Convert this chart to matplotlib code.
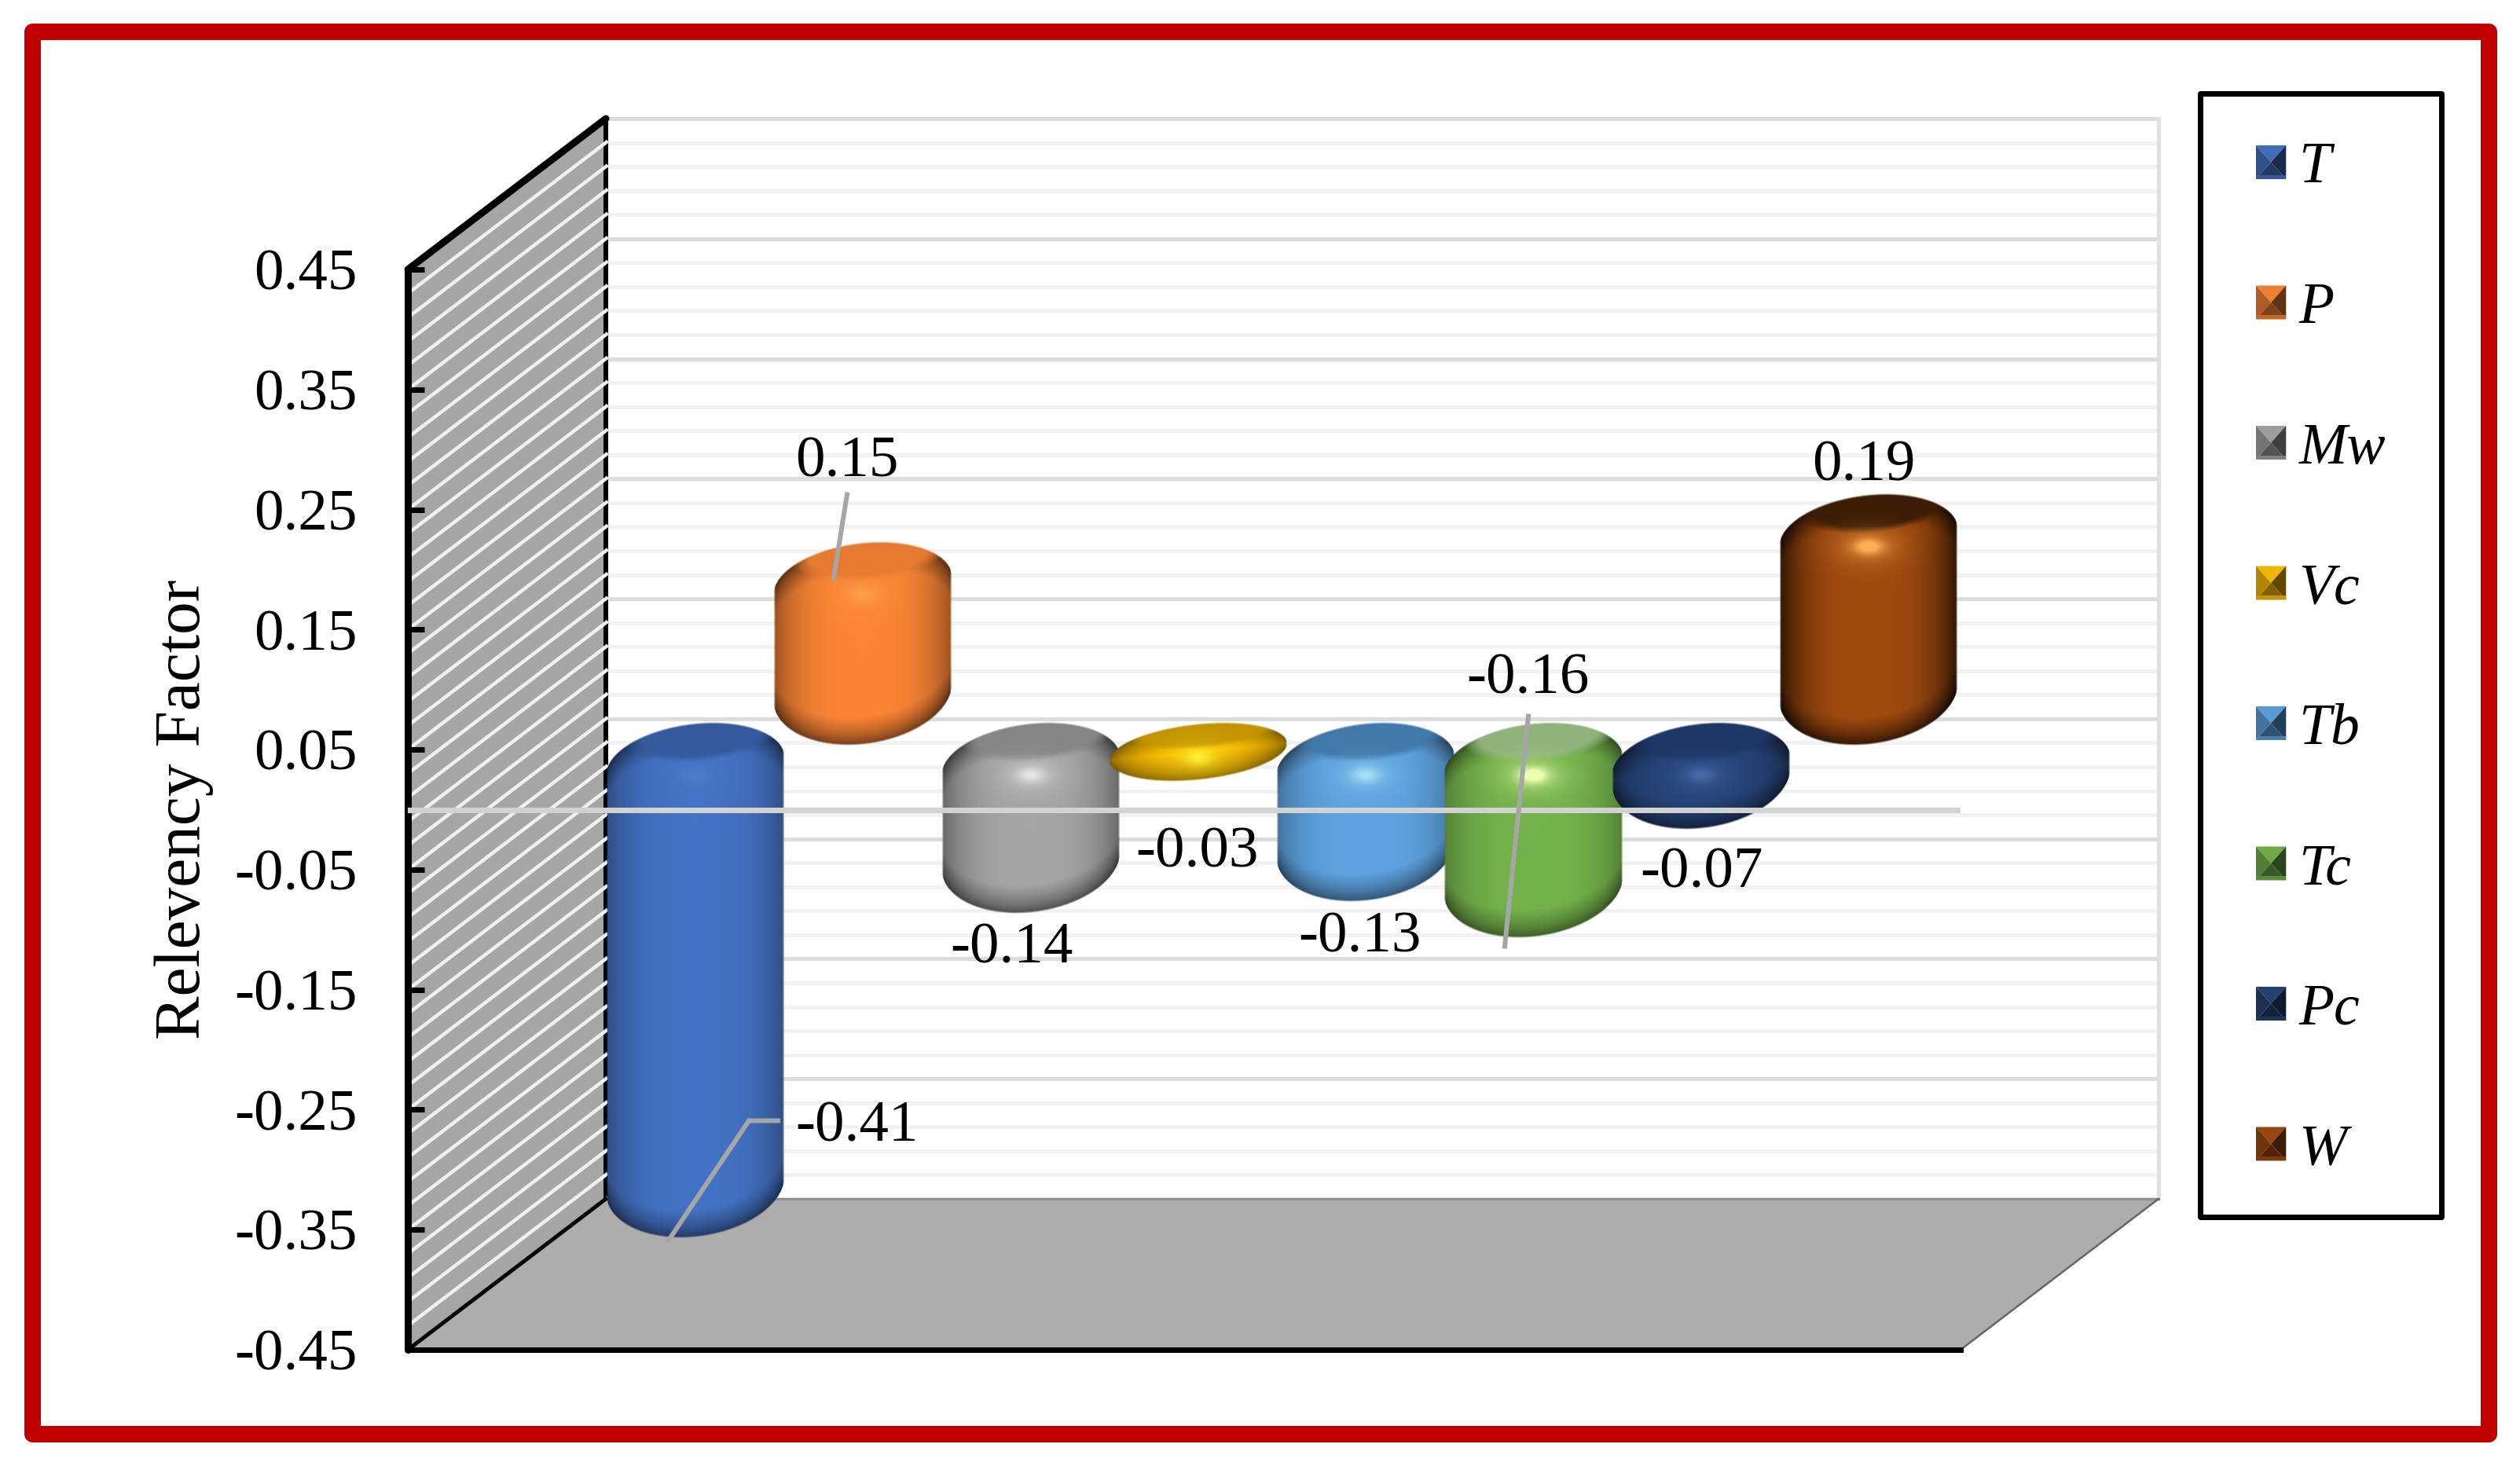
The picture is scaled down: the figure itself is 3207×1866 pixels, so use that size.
import numpy as np
import matplotlib
matplotlib.use("Agg")
import matplotlib.pyplot as plt
from matplotlib.patches import Polygon, Rectangle, Patch

plt.rcParams['font.family'] = ['Liberation Serif', 'DejaVu Serif']

# data
series = ['T', 'P', 'Mw', 'Vc', 'Tb', 'Tc', 'Pc', 'W']
values = [-0.41, 0.15, -0.14, -0.03, -0.13, -0.16, -0.07, 0.19]
colors = ['#4472c4', '#fb8535', '#a5a5a5', '#ffc000', '#5ea3e0', '#74b24b', '#264478', '#a04a0e']
yticks = [0.45, 0.35, 0.25, 0.15, 0.05, -0.05, -0.15, -0.25, -0.35, -0.45]
ytick_labels = ['0.45', '0.35', '0.25', '0.15', '0.05', '-0.05', '-0.15', '-0.25', '-0.35', '-0.45']

# shading per bar
cap_color = ['#345a9c', '#e67a30', '#868686', '#c49400', '#4179ab', '#8fb27a', '#1d3766', '#3c1c04']
spot = [0.06, 0.15, 0.50, 0.55, 0.45, 0.90, 0.28, 0.85]
side_dark = [0.68, 0.62, 0.62, 0.80, 0.70, 0.72, 0.68, 0.28]
draw_order = [7, 1, 0, 2, 3, 4, 5, 6]

# label offsets from bar end, pixels
label_dx = [205, -20, -24, -1, -8, -7, 1, -6]
label_dy = [126, 117, -59, -105, -61, 314, -70, 50]

W, H = 3207, 1866
AX_L, AX_R, AX_T, AX_B = 519, 2495, 343, 1718
PX_CAT = 213.3                      # pixels between bars
PX_VAL = (AX_B - AX_T) / 0.9        # pixels per 1.0 of value
X0 = 759                            # pixel of first bar on the front plane
DEPTH_X = 252 / PX_CAT
DEPTH_Y = 192 / PX_VAL
BAR_PX = 228
BAR_HALF = BAR_PX / 2 / PX_CAT
BAR_PAD = 15 / PX_VAL
GREY_LINE = '#a6a6a6'


def px(x, y):
    return (x - X0) / PX_CAT, (1031 - y) / PX_VAL


def lw(p):
    return p * 0.72


def bar_image(H_px, W_px, col, cap, spot_k, dark):
    rgb = np.array(matplotlib.colors.to_rgb(col))
    cap_rgb = np.array(matplotlib.colors.to_rgb(cap))
    u = np.linspace(-1, 1, W_px)[None, :]
    y = np.arange(H_px)[:, None] + 0.5
    s = 11.0
    limit = np.sqrt(max((H_px / 2) ** 2 - s ** 2, 1))
    c = min(54.0, limit)        # top curve
    cb = min(66.0, limit)       # bottom curve is a bit deeper
    sq = np.sqrt(np.clip(1 - u ** 2, 0, 1))
    upper = np.sqrt(c ** 2 + s ** 2) - c * sq - s * u
    lower = H_px - np.sqrt(cb ** 2 + s ** 2) + cb * sq - s * u
    alpha = np.clip((y - upper) / 2.5, 0, 1) * np.clip((lower - y) / 2.5, 0, 1)
    alpha = alpha * np.clip((1 - np.abs(u)) * W_px / 2 / 2.5, 0, 1)

    shade = dark + (1 - dark) * (1 - np.abs(u) ** 3.2)
    d = np.clip(np.minimum(y - upper, lower - y), 0, None)
    shade = shade * (dark * 0.6 + (1 - dark * 0.6) * np.clip(d / 36, 0, 1) ** 0.6)
    img = rgb[None, None, :] * shade[:, :, None]

    # darker cap on the top face
    q = ((u - 0.08) / 0.8) ** 2 + ((y + s * u - 0.3 * c) / (0.58 * c)) ** 2
    m = np.clip((1.2 - q) / 0.5, 0, 1)[:, :, None]
    img = img * (1 - m) + cap_rgb[None, None, :] * m

    # specular spot
    hy = 1.25 * c
    g1 = np.exp(-(u / 0.16) ** 2 - ((y - hy) / 10) ** 2)
    g2 = np.exp(-(u / 0.38) ** 2 - ((y - hy) / 24) ** 2)
    k = np.clip(spot_k * g1 + 0.45 * spot_k * g2, 0, 1)[:, :, None]
    img = img * (1 - k) + np.minimum(rgb[None, None, :] * 1.5 + 0.25, 1) * k

    return np.dstack([np.clip(img, 0, 1), alpha])


class BevelHandler:
    def legend_artist(self, legend, handle, fontsize, handlebox):
        x0, y0 = handlebox.xdescent, handlebox.ydescent
        w, h = handlebox.width, handlebox.height
        c = np.array(matplotlib.colors.to_rgb(handle.get_facecolor()))
        mx, my = -x0 + w / 2, -y0 + h / 2
        l, r, b, t = -x0, -x0 + w, -y0, -y0 + h
        faces = [([(l, t), (r, t), (mx, my)], c * 0.95),
                 ([(l, t), (l, b), (mx, my)], c * 0.70),
                 ([(r, t), (r, b), (mx, my)], c * 0.38),
                 ([(l, b), (r, b), (mx, my)], c * 0.50)]
        for pts, col in faces:
            handlebox.add_artist(Polygon(pts, closed=True, facecolor=col, edgecolor='none',
                                         transform=handlebox.get_transform()))
        handlebox.add_artist(Rectangle((l, b), w, h * 0.12, facecolor=c * 0.78, edgecolor='none',
                                       transform=handlebox.get_transform()))
        return handle


fig = plt.figure(figsize=(W / 100, H / 100), dpi=100, facecolor='white')
ax = fig.add_axes([AX_L / W, 1 - AX_B / H, (AX_R - AX_L) / W, (AX_B - AX_T) / H])
ax.set_facecolor('none')

xlim = ((AX_L - X0) / PX_CAT, (AX_R - X0) / PX_CAT)
ylim = (-0.45, 0.45)
xl, xr = xlim
yb, yt = ylim

# walls and floor
ax.add_patch(Polygon([(xl, yb), (xl, yt), (xl + DEPTH_X, yt + DEPTH_Y), (xl + DEPTH_X, yb + DEPTH_Y)],
                     facecolor='#a6a6a6', edgecolor='none', zorder=1, clip_on=False))
ax.plot([xl + DEPTH_X] * 2, [yb + DEPTH_Y, yt + DEPTH_Y], color='black', lw=lw(6), zorder=1.2, clip_on=False)

grid_levels = np.arange(0, 46) * -0.02 + 0.45
for n, v in enumerate(grid_levels):
    major = n % 5 == 0
    ax.plot([xl, xl + DEPTH_X * 1.01], [v, v + DEPTH_Y * 1.01], color='#f0f0f0', lw=lw(4.5),
            zorder=1.5, clip_on=False, solid_capstyle='butt')
    ax.plot([xl + DEPTH_X * 1.01, xr + DEPTH_X], [v + DEPTH_Y] * 2, color='#dcdcdc' if major else '#f2f2f2',
            lw=lw(5), zorder=1.5, clip_on=False, solid_capstyle='butt')
ax.plot([xr + DEPTH_X] * 2, [yb + DEPTH_Y, yt + DEPTH_Y], color='#e0e0e0', lw=lw(5), zorder=1.5, clip_on=False)

ax.add_patch(Polygon([(xl, yb), (xr, yb), (xr + DEPTH_X, yb + DEPTH_Y), (xl + DEPTH_X, yb + DEPTH_Y)],
                     facecolor='#adadad', edgecolor='none', zorder=2, clip_on=False))
ax.plot([xl + DEPTH_X, xr + DEPTH_X], [yb + DEPTH_Y] * 2, color='#909090', lw=lw(3), zorder=2.1, clip_on=False)
ax.plot([xr, xr + DEPTH_X], [yb, yb + DEPTH_Y], color='#666666', lw=lw(2.5), zorder=2.1, clip_on=False)
ax.plot([xl, xl + DEPTH_X], [yb, yb + DEPTH_Y], color='black', lw=lw(5), zorder=2.2, clip_on=False)
ax.plot([xl, xl + DEPTH_X], [yt, yt + DEPTH_Y], color='black', lw=lw(9), zorder=2.6, clip_on=False,
        solid_capstyle='round')

# bars
for z, i in enumerate(draw_order):
    v = values[i]
    cx = i + 0.5 * DEPTH_X
    top = max(v, 0) + 0.5 * DEPTH_Y + BAR_PAD
    bot = min(v, 0) + 0.5 * DEPTH_Y - BAR_PAD
    rows = int(round((top - bot) * PX_VAL))
    im = bar_image(rows, BAR_PX, colors[i], cap_color[i], spot[i], side_dark[i])
    ax.imshow(im, extent=(cx - BAR_HALF, cx + BAR_HALF, bot, top), aspect='auto',
              interpolation='bilinear', zorder=3 + z * 0.1, clip_on=False)

ax.set_xlim(xlim)
ax.set_ylim(ylim)

# zero line on the front plane
ax.axhline(0, color='#d2d2d2', lw=lw(7), zorder=10)

# leader lines
leaders = [[(1078, 630), (1061, 736)],
           [(990, 1427), (953, 1427), (851, 1579)],
           [(1945, 912), (1915, 1205)]]
for path in leaders:
    pts = np.array([px(*p) for p in path])
    ax.plot(pts[:, 0], pts[:, 1], color=GREY_LINE, lw=lw(6), zorder=11, clip_on=False,
            solid_joinstyle='miter')

# value labels
for i, v in enumerate(values):
    ax.annotate(f'{v:.2f}', xy=(i + 0.5 * DEPTH_X, v + 0.5 * DEPTH_Y),
                xytext=(label_dx[i], label_dy[i]), textcoords='offset pixels',
                ha='center', va='center', fontsize=54, color='black', zorder=12)

# axes
for side in ('top', 'right'):
    ax.spines[side].set_visible(False)
ax.spines['left'].set_linewidth(lw(9))
ax.spines['bottom'].set_linewidth(lw(7))
ax.spines['bottom'].set_zorder(2.5)
ax.spines['left'].set_capstyle('round')
ax.set_axisbelow(False)
ax.set_xticks([])
ax.set_yticks(yticks)
ax.set_yticklabels(ytick_labels)
ax.tick_params(axis='y', direction='in', length=21 * 0.72, width=lw(7), labelsize=54, pad=64 * 0.72)
ax.set_ylabel('Relevency Factor', fontsize=60)
ax.yaxis.set_label_coords((272 - AX_L) / (AX_R - AX_L), 0.5)

# legend box drawn on its own so the rows can sit as in the original
fig.add_artist(Rectangle((2799.5 / W, 1 - 1549 / H), (3106.5 - 2799.5) / W, (1549 - 118.5) / H,
                         transform=fig.transFigure, facecolor='white', edgecolor='black', lw=lw(7),
                         joinstyle='round'))
handles = [Patch(facecolor=c, label=s) for c, s in zip(colors, series)]
leg = fig.legend(handles=handles, loc='upper left',
                 bbox_to_anchor=(2871 / W, 1 - 181 / H), borderaxespad=0,
                 prop={'family': 'Liberation Serif', 'style': 'italic', 'size': 53},
                 handler_map={Patch: BevelHandler()}, handlelength=0.52, handleheight=0.52,
                 handletextpad=0.22, borderpad=0, labelspacing=1.508, frameon=False)
leg.set_zorder(5)

# red outer frame
fig.add_artist(Rectangle((41 / W, 1 - 1825 / H), (3167 - 41) / W, (1825 - 39.5) / H, transform=fig.transFigure,
                         facecolor='none', edgecolor='#c00000', lw=lw(21), joinstyle='round'))

fig.savefig('out.png', dpi=100)
